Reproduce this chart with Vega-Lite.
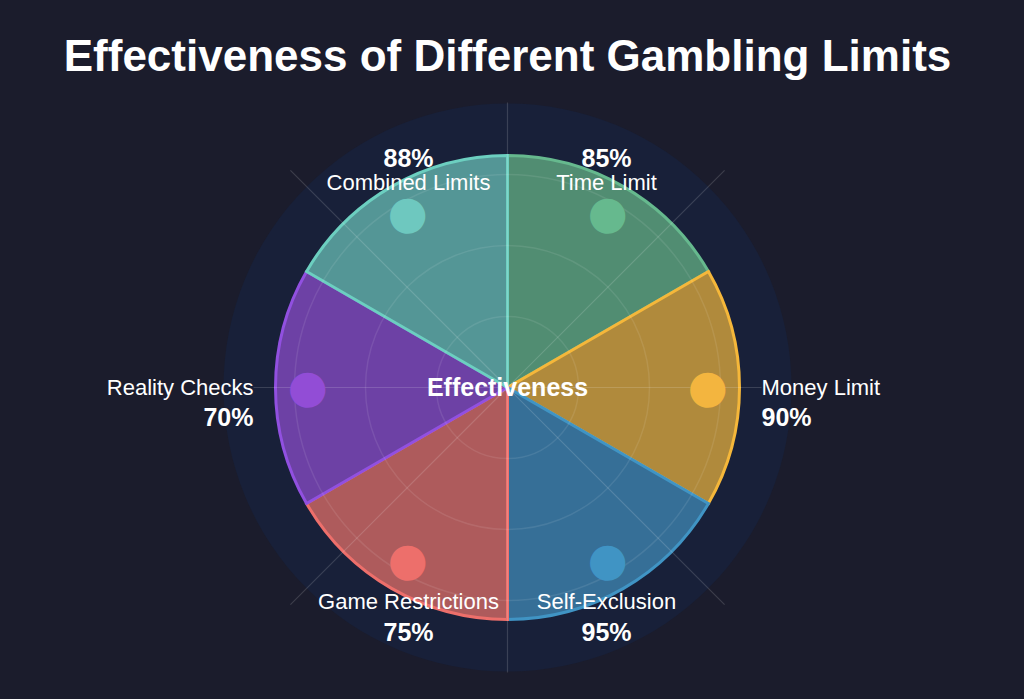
{
  "$schema": "https://vega.github.io/schema/vega-lite/v6.json",
  "width": 1024,
  "height": 699,
  "autosize": {"type": "fit", "contains": "padding"},
  "padding": {"left": 0, "right": 9, "top": 36, "bottom": 12},
  "background": "#1b1c2c",
  "title": {
    "text": "Effectiveness of Different Gambling Limits",
    "font": "Liberation Sans",
    "fontSize": 44,
    "fontWeight": "bold",
    "color": "#ffffff",
    "anchor": "middle",
    "offset": 8
  },
  "datasets": {
    "slices": [
      {"idx": 1, "category": "Time Limit", "effectiveness": 0.85},
      {"idx": 2, "category": "Money Limit", "effectiveness": 0.90},
      {"idx": 3, "category": "Self-Exclusion", "effectiveness": 0.95},
      {"idx": 4, "category": "Game Restrictions", "effectiveness": 0.75},
      {"idx": 5, "category": "Reality Checks", "effectiveness": 0.70},
      {"idx": 6, "category": "Combined Limits", "effectiveness": 0.88}
    ],
    "rings": [{"r": 25}, {"r": 50}, {"r": 75}, {"r": 100}],
    "spokes": [
      {"deg": 0}, {"deg": 45}, {"deg": 90}, {"deg": 135},
      {"deg": 180}, {"deg": 225}, {"deg": 270}, {"deg": 315}
    ],
    "center": [{"label": "Effectiveness"}]
  },
  "resolve": {"scale": {"theta": "independent", "radius": "independent", "color": "independent", "stroke": "independent"}},
  "layer": [
    {
      "data": {"name": "rings"},
      "transform": [{"filter": "datum.r == 100"}],
      "mark": {"type": "arc", "theta": 0, "theta2": 6.2832, "fill": "#182039"},
      "encoding": {
        "radius": {"field": "r", "type": "quantitative", "stack": null, "scale": {"domain": [0, 100], "range": [0, 284]}}
      }
    },
    {
      "data": {"name": "slices"},
      "mark": {"type": "arc", "outerRadius": 232, "strokeWidth": 3},
      "encoding": {
        "theta": {"aggregate": "count", "type": "quantitative", "stack": true},
        "order": {"field": "idx", "type": "quantitative"},
        "color": {
          "field": "category",
          "type": "nominal",
          "legend": null,
          "scale": {
            "domain": ["Time Limit", "Money Limit", "Self-Exclusion", "Game Restrictions", "Reality Checks", "Combined Limits"],
            "range": ["#518d72", "#b08a3c", "#366f97", "#ae5b5c", "#6d41a5", "#549696"]
          }
        },
        "stroke": {
          "field": "category",
          "type": "nominal",
          "legend": null,
          "scale": {
            "domain": ["Time Limit", "Money Limit", "Self-Exclusion", "Game Restrictions", "Reality Checks", "Combined Limits"],
            "range": ["#66b98e", "#f5b73a", "#4094c4", "#ed6f6b", "#9150e0", "#6ccfc0"]
          }
        }
      }
    },
    {
      "data": {"name": "rings"},
      "transform": [{"filter": "datum.r < 100"}],
      "mark": {"type": "arc", "theta": 0, "theta2": 6.2832, "fillOpacity": 0, "stroke": "#ffffff", "strokeOpacity": 0.09, "strokeWidth": 1.5},
      "encoding": {
        "radius": {"field": "r", "type": "quantitative", "stack": null, "scale": {"domain": [0, 100], "range": [0, 284]}}
      }
    },
    {
      "data": {"name": "spokes"},
      "transform": [{"filter": "datum.deg % 90 == 45"}],
      "mark": {"type": "arc", "outerRadius": 307, "fillOpacity": 0, "stroke": "#ffffff", "strokeOpacity": 0.15, "strokeWidth": 1.2},
      "encoding": {
        "theta": {"field": "deg", "type": "quantitative", "scale": {"domain": [0, 360], "range": [0, 6.2832]}},
        "theta2": {"field": "deg"}
      }
    },
    {
      "data": {"name": "spokes"},
      "transform": [{"filter": "datum.deg % 180 == 0"}],
      "mark": {"type": "arc", "outerRadius": 285, "fillOpacity": 0, "stroke": "#ffffff", "strokeOpacity": 0.15, "strokeWidth": 1.2},
      "encoding": {
        "theta": {"field": "deg", "type": "quantitative", "scale": {"domain": [0, 360], "range": [0, 6.2832]}},
        "theta2": {"field": "deg"}
      }
    },
    {
      "data": {"name": "spokes"},
      "transform": [{"filter": "datum.deg % 180 == 90"}],
      "mark": {"type": "arc", "outerRadius": 254, "fillOpacity": 0, "stroke": "#ffffff", "strokeOpacity": 0.15, "strokeWidth": 1.2},
      "encoding": {
        "theta": {"field": "deg", "type": "quantitative", "scale": {"domain": [0, 360], "range": [0, 6.2832]}},
        "theta2": {"field": "deg"}
      }
    },
    {
      "data": {"name": "slices"},
      "mark": {"type": "text", "font": "DejaVu Sans", "fontSize": 46, "baseline": "middle", "align": "center"},
      "encoding": {
        "theta": {"aggregate": "count", "type": "quantitative", "stack": true},
        "order": {"field": "idx", "type": "quantitative"},
        "radius": {"value": 200},
        "text": {"value": "●"},
        "color": {
          "field": "category",
          "type": "nominal",
          "legend": null,
          "scale": {
            "domain": ["Time Limit", "Money Limit", "Self-Exclusion", "Game Restrictions", "Reality Checks", "Combined Limits"],
            "range": ["#66b98e", "#f3b53f", "#4094c4", "#ed6f6b", "#924dd6", "#6ec8bf"]
          }
        }
      }
    },
    {
      "data": {"name": "center"},
      "mark": {"type": "text", "font": "Liberation Sans", "fontSize": 25, "fontWeight": "bold", "color": "#ffffff", "baseline": "middle", "align": "center"},
      "encoding": {"text": {"field": "label"}}
    },
    {
      "data": {"name": "slices"},
      "mark": {"type": "text", "font": "Liberation Sans", "fontSize": 22, "color": "#ffffff", "baseline": "middle", "align": "center", "dy": -33},
      "encoding": {
        "theta": {"aggregate": "count", "type": "quantitative", "stack": true},
        "order": {"field": "idx", "type": "quantitative"},
        "detail": [{"field": "category"}, {"field": "effectiveness"}],
        "radius": {"value": 198},
        "text": {"condition": {"test": "datum.category === 'Time Limit' || datum.category === 'Combined Limits'", "field": "category"}, "value": ""}
      }
    },
    {
      "data": {"name": "slices"},
      "mark": {"type": "text", "font": "Liberation Sans", "fontSize": 25, "fontWeight": "bold", "color": "#ffffff", "baseline": "middle", "align": "center", "dy": -57},
      "encoding": {
        "theta": {"aggregate": "count", "type": "quantitative", "stack": true},
        "order": {"field": "idx", "type": "quantitative"},
        "detail": [{"field": "category"}, {"field": "effectiveness"}],
        "radius": {"value": 198},
        "text": {"condition": {"test": "datum.category === 'Time Limit' || datum.category === 'Combined Limits'", "field": "effectiveness", "type": "quantitative", "format": ".0%"}, "value": ""}
      }
    },
    {
      "data": {"name": "slices"},
      "mark": {"type": "text", "font": "Liberation Sans", "fontSize": 22, "color": "#ffffff", "baseline": "middle", "align": "center", "dy": 43},
      "encoding": {
        "theta": {"aggregate": "count", "type": "quantitative", "stack": true},
        "order": {"field": "idx", "type": "quantitative"},
        "detail": [{"field": "category"}, {"field": "effectiveness"}],
        "radius": {"value": 198},
        "text": {"condition": {"test": "datum.category === 'Self-Exclusion' || datum.category === 'Game Restrictions'", "field": "category"}, "value": ""}
      }
    },
    {
      "data": {"name": "slices"},
      "mark": {"type": "text", "font": "Liberation Sans", "fontSize": 25, "fontWeight": "bold", "color": "#ffffff", "baseline": "middle", "align": "center", "dy": 74},
      "encoding": {
        "theta": {"aggregate": "count", "type": "quantitative", "stack": true},
        "order": {"field": "idx", "type": "quantitative"},
        "detail": [{"field": "category"}, {"field": "effectiveness"}],
        "radius": {"value": 198},
        "text": {"condition": {"test": "datum.category === 'Self-Exclusion' || datum.category === 'Game Restrictions'", "field": "effectiveness", "type": "quantitative", "format": ".0%"}, "value": ""}
      }
    },
    {
      "data": {"name": "slices"},
      "mark": {"type": "text", "font": "Liberation Sans", "fontSize": 22, "color": "#ffffff", "baseline": "middle", "align": "left", "dx": 56},
      "encoding": {
        "theta": {"aggregate": "count", "type": "quantitative", "stack": true},
        "order": {"field": "idx", "type": "quantitative"},
        "detail": [{"field": "category"}, {"field": "effectiveness"}],
        "radius": {"value": 198},
        "text": {"condition": {"test": "datum.category === 'Money Limit'", "field": "category"}, "value": ""}
      }
    },
    {
      "data": {"name": "slices"},
      "mark": {"type": "text", "font": "Liberation Sans", "fontSize": 25, "fontWeight": "bold", "color": "#ffffff", "baseline": "middle", "align": "left", "dx": 56, "dy": 30},
      "encoding": {
        "theta": {"aggregate": "count", "type": "quantitative", "stack": true},
        "order": {"field": "idx", "type": "quantitative"},
        "detail": [{"field": "category"}, {"field": "effectiveness"}],
        "radius": {"value": 198},
        "text": {"condition": {"test": "datum.category === 'Money Limit'", "field": "effectiveness", "type": "quantitative", "format": ".0%"}, "value": ""}
      }
    },
    {
      "data": {"name": "slices"},
      "mark": {"type": "text", "font": "Liberation Sans", "fontSize": 22, "color": "#ffffff", "baseline": "middle", "align": "right", "dx": -56},
      "encoding": {
        "theta": {"aggregate": "count", "type": "quantitative", "stack": true},
        "order": {"field": "idx", "type": "quantitative"},
        "detail": [{"field": "category"}, {"field": "effectiveness"}],
        "radius": {"value": 198},
        "text": {"condition": {"test": "datum.category === 'Reality Checks'", "field": "category"}, "value": ""}
      }
    },
    {
      "data": {"name": "slices"},
      "mark": {"type": "text", "font": "Liberation Sans", "fontSize": 25, "fontWeight": "bold", "color": "#ffffff", "baseline": "middle", "align": "right", "dx": -56, "dy": 30},
      "encoding": {
        "theta": {"aggregate": "count", "type": "quantitative", "stack": true},
        "order": {"field": "idx", "type": "quantitative"},
        "detail": [{"field": "category"}, {"field": "effectiveness"}],
        "radius": {"value": 198},
        "text": {"condition": {"test": "datum.category === 'Reality Checks'", "field": "effectiveness", "type": "quantitative", "format": ".0%"}, "value": ""}
      }
    }
  ],
  "config": {"view": {"stroke": null}}
}
